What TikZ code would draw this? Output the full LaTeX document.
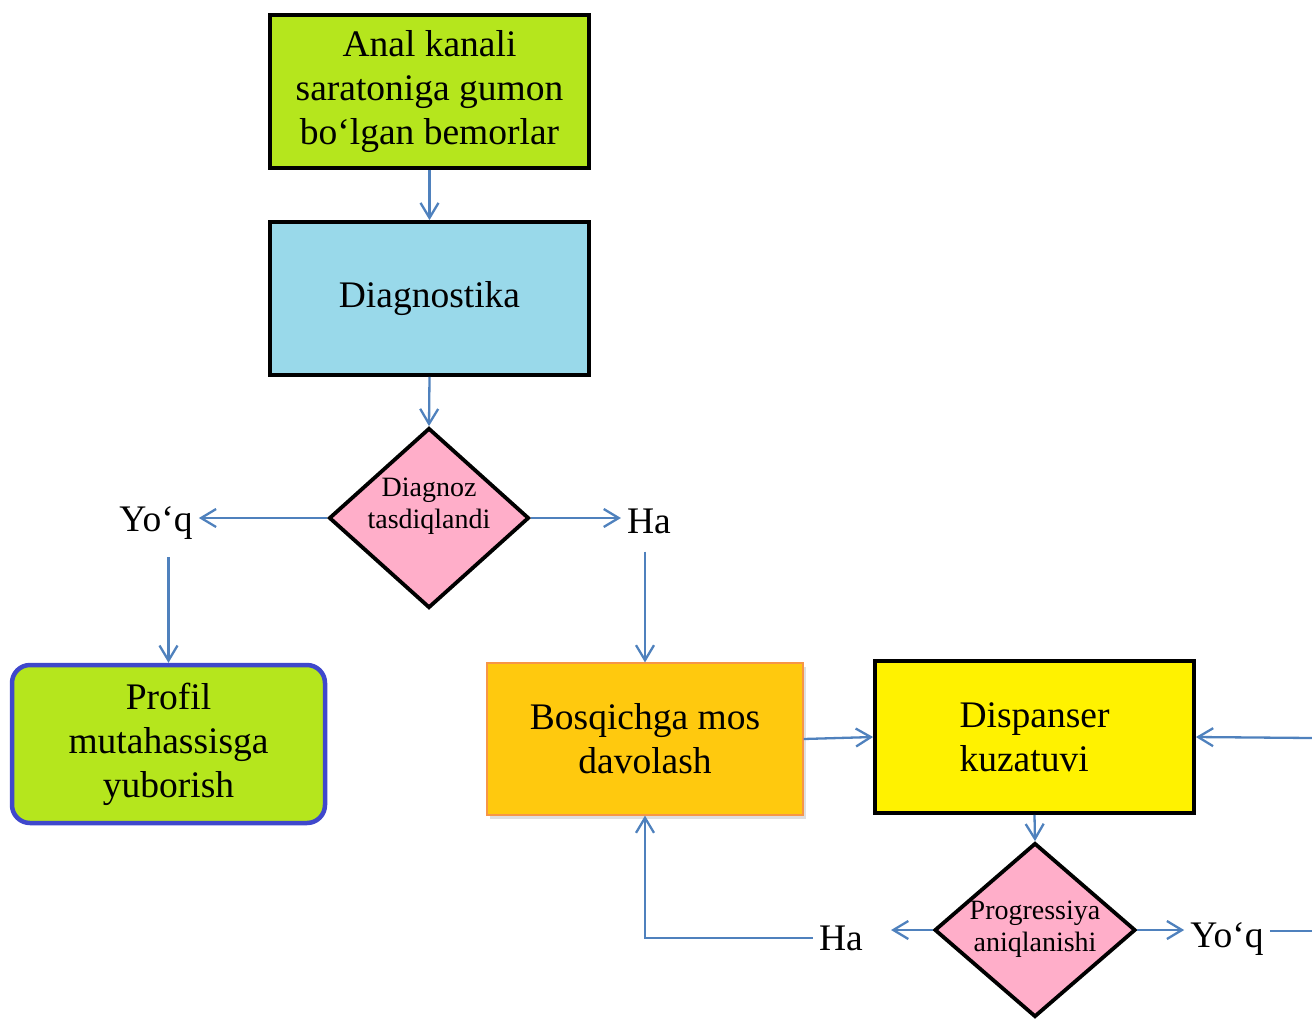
\documentclass[tikz,border=0pt]{standalone}
\usepackage{fontspec}
\setmainfont{Liberation Serif}
\usepackage{xcolor}
\usetikzlibrary{arrows.meta, positioning, shapes.geometric, shadows}

\definecolor{limegreen}{HTML}{B5E61D}
\definecolor{skyblue}{HTML}{99D9EA}
\definecolor{candypink}{HTML}{FFAEC9}
\definecolor{amber}{HTML}{FFC90E}
\definecolor{amberedge}{HTML}{F79646}
\definecolor{lemon}{HTML}{FFF200}
\definecolor{indigoedge}{HTML}{3F48CC}
\definecolor{linkblue}{HTML}{4F81BD}

\tikzset{
  bigtext/.style={font=\fontsize{37.5}{44}\selectfont, align=center},
  block/.style={draw, line width=3.8pt, rectangle, minimum width=319pt, minimum height=153pt, inner sep=0pt, bigtext},
  decision/.style={draw, line width=3.8pt, diamond, fill=candypink, minimum width=200pt, minimum height=180pt, inner sep=0pt},
  dectext/.style={font=\fontsize{28}{32}\selectfont, align=center, inner sep=0pt},
  answer/.style={font=\fontsize{37.5}{44}\selectfont, inner sep=6pt, anchor=base},
  link/.style={draw=linkblue, line width=2.3pt, -{Straight Barb[length=15pt, width=18pt, line width=2.3pt]}},
  plainlink/.style={draw=linkblue, line width=2.3pt}
}

\begin{document}
\begin{tikzpicture}[x=1pt, y=-1pt]
            \path[use as bounding box, clip] (0,0) rectangle (1312,1018);
            % Define nodes for the upper chain
            \node[block, fill=limegreen] (box-patients) at (429.5, 91.5) {Anal kanali\\saratoniga gumon\\bo‘lgan bemorlar};
            \node[block, fill=skyblue] (box-diag) at (429.5, 298.5) {Diagnostika};
            \node[decision] (dec-diag) at (429, 518) {};
            \node[dectext] (dec-diag-txt) at (429, 506) {Diagnoz\\tasdiqlandi};
            % Answers of the first decision
            \node[answer] (no-1) at (156, 531) {Yo‘q};
            \node[answer] (ha-1) at (649, 533) {Ha};
            % Define nodes for the lower row
            \node[draw=indigoedge, line width=4.5pt, rounded corners=18pt, fill=limegreen, minimum width=313pt, minimum height=158pt, bigtext] (box-profil) at (168.5, 744) {Profil\\mutahassisga\\yuborish};
            \node[draw=amberedge, line width=1.2pt, fill=amber, minimum width=316pt, minimum height=152pt, bigtext,
                  drop shadow={opacity=0.25, shadow xshift=3pt, shadow yshift=-4pt}] (box-treat) at (645, 739) {Bosqichga mos\\davolash};
            \node[block, fill=lemon, minimum height=152pt, align=left] (box-disp) at (1034.5, 737) {Dispanser\\kuzatuvi};
            \node[decision, minimum width=201pt, minimum height=174pt] (dec-prog) at (1035, 930) {};
            \node[dectext] (dec-prog-txt) at (1035, 929) {Progressiya\\aniqlanishi};
            % Answers of the second decision
            \node[answer] (ha-2) at (841, 950) {Ha};
            \node[answer] (no-2) at (1227, 947) {Yo‘q};
            \coordinate (edge-r) at (1312, 738);
            \coordinate (edge-r2) at (1312, 931);
            % Connectors
            \draw[link] (box-patients.south) -- (box-diag.north);
            \draw[link] (box-diag.south) -- (dec-diag.north);
            \draw[link] (dec-diag.west) -- (dec-diag.west -| no-1.east);
            \draw[link] (dec-diag.east) -- (dec-diag.east -| ha-1.west);
            \draw[link, shorten <=12pt] (no-1.south -| box-profil.north) -- (box-profil.north);
            \draw[link, shorten <=12pt] (ha-1.south -| box-treat.north) -- (box-treat.north);
            \draw[link] (box-treat.east) -- (box-disp.west);
            \draw[link] (edge-r) -- (box-disp.east);
            \draw[link] (box-disp.south) -- (dec-prog.north);
            \draw[link, shorten >=22pt] (dec-prog.west) -- (dec-prog.west -| ha-2.east);
            \draw[link] (ha-2.west) -| (box-treat.south);
            \draw[link] (dec-prog.east) -- (dec-prog.east -| no-2.west);
            \draw[plainlink] (no-2.east |- edge-r2) -- (edge-r2);
        \end{tikzpicture}
\end{document}
